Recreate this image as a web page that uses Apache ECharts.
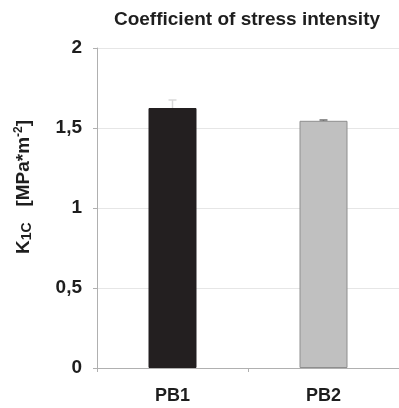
<!DOCTYPE html>
<html>
<head>
<meta charset="utf-8">
<script src="https://cdn.jsdelivr.net/npm/echarts@6/dist/echarts.min.js"></script>
<style>
  html, body { margin: 0; padding: 0; background: #fff; }
  #chart { width: 399px; height: 408px; }
</style>
</head>
<body>
<div id="chart"></div>
<script>
// Fracture toughness of the two materials
const categories = ['PB1', 'PB2'];
const meanValues = [1.625, 1.545];
const errorValues = [0.05, 0.005];
const barColors = ['#231f20', '#c0c0c0'];
const barBorders = ['#231f20', '#8e8e8e'];
const errorColors = ['#d8d8d8', '#6e6e6e'];
const yTicks = [0, 0.5, 1, 1.5, 2];

const chart = echarts.init(document.getElementById('chart'));
const font = '"Liberation Sans", Arial, sans-serif';
const ink = '#1e1e1e';

chart.setOption({
  animation: false,
  title: {
    text: 'Coefficient of stress intensity',
    left: 242,
    textAlign: 'center',
    top: 5,
    textStyle: { fontFamily: font, fontWeight: 'bold', fontSize: 19, color: ink }
  },
  grid: { left: 97, right: -3, top: 48, bottom: 40 },
  xAxis: {
    type: 'category',
    data: categories,
    axisLine: { lineStyle: { color: '#b0b0b0' } },
    axisTick: { show: true, length: 4, lineStyle: { color: '#b0b0b0' } },
    axisLabel: { fontFamily: font, fontWeight: 'bold', fontSize: 18, color: ink, margin: 19 }
  },
  yAxis: {
    type: 'value',
    min: 0, max: 2, interval: 0.5,
    name: '{k|K}{sub|1C}{k|   [MPa*m}{sup|-2}{k|]}',
    nameLocation: 'middle',
    nameGap: 63,
    nameRotate: 90,
    nameTextStyle: {
      padding: [0, 0, 0, 42],
      rich: {
        k: { fontFamily: font, fontWeight: 'bold', fontSize: 19, color: ink },
        sub: { fontFamily: font, fontWeight: 'bold', fontSize: 14, color: ink, verticalAlign: 'bottom', padding: [6, 0, 0, 0] },
        sup: { fontFamily: font, fontWeight: 'bold', fontSize: 12, color: ink, verticalAlign: 'top', padding: [0, 0, 9, 0] }
      }
    },
    axisLine: { show: true, lineStyle: { color: '#b0b0b0' } },
    axisTick: { show: true, length: 4, inside: false, lineStyle: { color: '#b0b0b0' } },
    splitLine: { lineStyle: { color: '#e6e6e6' } },
    axisLabel: {
      fontFamily: font, fontWeight: 'bold', fontSize: 19, color: ink, margin: 15,
      formatter: v => yTicks.includes(v) ? String(v).replace('.', ',') : ''
    }
  },
  series: [
    {
      type: 'bar',
      barWidth: 48,
      data: meanValues.map((v, i) => ({
        value: v,
        itemStyle: { color: barColors[i], borderColor: barBorders[i], borderWidth: 1 }
      }))
    },
    {
      type: 'custom',
      data: meanValues.map((v, i) => [i, v, v + errorValues[i]]),
      renderItem: (params, api) => {
        const i = api.value(0);
        const base = api.coord([i, api.value(1)]);
        const top = api.coord([i, api.value(2)]);
        const c = errorColors[i];
        return {
          type: 'group',
          children: [
            { type: 'line', shape: { x1: base[0], y1: base[1], x2: top[0], y2: top[1] }, style: { stroke: c, lineWidth: 1.5 } },
            { type: 'line', shape: { x1: top[0] - 4, y1: top[1], x2: top[0] + 4, y2: top[1] }, style: { stroke: c, lineWidth: 1.5 } }
          ]
        };
      },
      z: 5
    }
  ]
});
</script>
</body>
</html>
